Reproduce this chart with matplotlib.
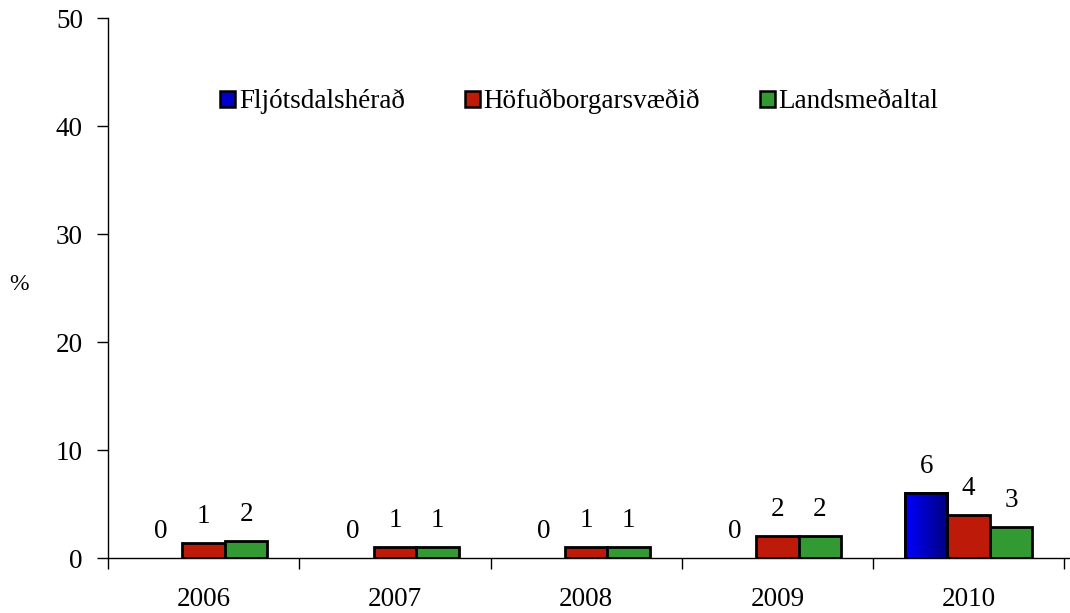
import numpy as np
import matplotlib
matplotlib.use("Agg")
import matplotlib.pyplot as plt
from matplotlib.patches import Patch

plt.rcParams['font.family'] = ['Liberation Serif', 'DejaVu Serif']

years = ['2006', '2007', '2008', '2009', '2010']
series_names = ['Fljótsdalshérað', 'Höfuðborgarsvæðið', 'Landsmeðaltal']
fljotsdalsherad = [0, 0, 0, 0, 6.0]
hofudborgarsvaedid = [1.35, 1.0, 1.0, 2.0, 4.0]
landsmedaltal = [1.6, 1.0, 1.0, 2.0, 2.9]
series = [fljotsdalsherad, hofudborgarsvaedid, landsmedaltal]
colors = ['#0000C8', '#BE1A0A', '#339933']

fs = 19.5

fig = plt.figure(figsize=(10.7, 6.13), dpi=100)
ax = fig.add_axes([108 / 1070, 55 / 613, 962 / 1070, 540 / 613])

x = np.arange(len(years))
w = 0.222
cmap = matplotlib.colors.LinearSegmentedColormap.from_list('b', ['#0000FF', '#000080'])
grad = np.linspace(0, 1, 64).reshape(1, -1)
for i, (vals, col) in enumerate(zip(series, colors)):
    pos = x + (i - 1) * w
    lws = [2 if v > 0 else 0 for v in vals]
    bars = ax.bar(pos, vals, width=w, color=col, edgecolor='black', linewidth=lws, zorder=3)
    if i == 0:
        # horizontal gradient, bright blue to navy
        for b in bars:
            if b.get_height() <= 0:
                continue
            bx, by = b.get_x(), b.get_y()
            im = ax.imshow(grad, cmap=cmap, aspect='auto', zorder=3.5,
                           extent=[bx, bx + b.get_width(), by, by + b.get_height()])
            im.set_clip_path(b)
            ax.bar(bx + b.get_width() / 2, b.get_height(), width=w, fill=False,
                   edgecolor='black', linewidth=2, zorder=4)
    for p, v in zip(pos, vals):
        ax.text(p, v + 1.3, f'{round(v):d}', ha='center', va='bottom', fontsize=fs, zorder=5)

ax.set_xlim(-0.5, len(years) - 0.5 + 0.03)
ax.set_ylim(0, 50)
ax.set_yticks(range(0, 51, 10))
ax.set_xticks(x)
ax.set_xticklabels(years)
ax.set_xticks(np.arange(-0.5, len(years), 1.0), minor=True)
ax.tick_params(axis='x', which='major', length=0, pad=21, labelsize=fs)
ax.tick_params(axis='x', which='minor', length=8, width=1, direction='out')
ax.tick_params(axis='y', length=8, width=1, direction='out', pad=10, labelsize=fs)
for s in ['top', 'right']:
    ax.spines[s].set_visible(False)
ax.spines['left'].set_linewidth(1)
ax.spines['bottom'].set_linewidth(1)
ax.set_ylabel('%', rotation=0, fontsize=17, va='center', ha='center')
ax.yaxis.set_label_coords(-0.092, 0.507)

handles = [Patch(facecolor=c, edgecolor='black', linewidth=1.8) for c in colors]
ax.legend(handles, series_names, loc='center', bbox_to_anchor=(0.49, 0.845), ncol=3,
          frameon=False, fontsize=fs, handlelength=0.55, handleheight=0.55,
          handletextpad=0.15, columnspacing=2.2)

fig.savefig('out.png', dpi=100)
